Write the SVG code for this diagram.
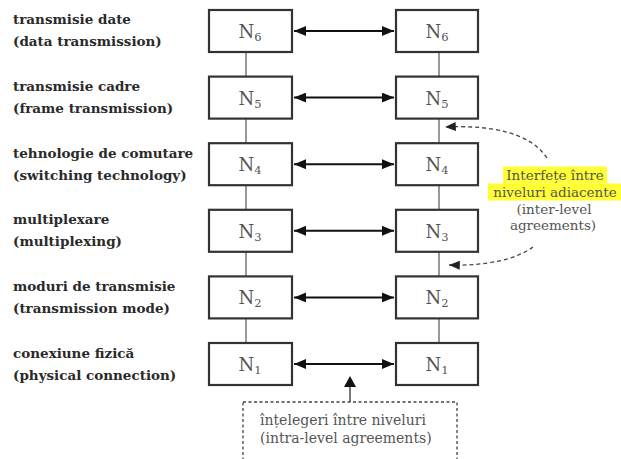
<svg xmlns="http://www.w3.org/2000/svg" width="621" height="459" viewBox="0 0 621 459">
  <style>
    .lbl { font-family: "DejaVu Serif", "Liberation Serif", serif; font-size: 13.5px; fill: #2a2a2a; font-weight: 600; }
    .box { fill: #ffffff; stroke: #333333; stroke-width: 2.2; }
    .nn { font-family: "DejaVu Serif", "Liberation Serif", serif; font-size: 18px; fill: #555555; text-anchor: middle; }
    .sub { font-size: 11.5px; }
    .vline { stroke: #555555; stroke-width: 1.2; }
    .harrow { stroke: #111111; stroke-width: 2; marker-start: url(#headL); marker-end: url(#headR); }
    .dash { fill: none; stroke: #444444; stroke-width: 1.3; stroke-dasharray: 4 3; }
    .note { font-family: "DejaVu Serif", "Liberation Serif", serif; font-size: 13.5px; fill: #555555; }
    .note-b { font-size: 14px; }
  </style>
  <defs>
    <marker id="headR" viewBox="0 0 12 10" refX="12" refY="5" markerWidth="12" markerHeight="10" markerUnits="userSpaceOnUse" orient="auto">
      <path d="M0,0 L12,5 L0,10 Z" fill="#111111"/>
    </marker>
    <marker id="headL" viewBox="0 0 12 10" refX="0" refY="5" markerWidth="12" markerHeight="10" markerUnits="userSpaceOnUse" orient="auto">
      <path d="M12,0 L0,5 L12,10 Z" fill="#111111"/>
    </marker>
    <marker id="dashHead" viewBox="0 0 12 10" refX="12" refY="5" markerWidth="11" markerHeight="9" markerUnits="userSpaceOnUse" orient="auto">
      <path d="M0,0 L12,5 L0,10 Z" fill="#222222"/>
    </marker>
  </defs>

  <rect width="621" height="459" fill="#ffffff"/>

  <!-- layer names -->
  <g id="labels">
    <text class="lbl" x="13" y="24">transmisie date</text>
    <text class="lbl" x="13" y="46">(data transmission)</text>
    <text class="lbl" x="13" y="91">transmisie cadre</text>
    <text class="lbl" x="13" y="113">(frame transmission)</text>
    <text class="lbl" x="13" y="157.5">tehnologie de comutare</text>
    <text class="lbl" x="13" y="179.5">(switching technology)</text>
    <text class="lbl" x="13" y="224">multiplexare</text>
    <text class="lbl" x="13" y="246">(multiplexing)</text>
    <text class="lbl" x="13" y="291">moduri de transmisie</text>
    <text class="lbl" x="13" y="313">(transmission mode)</text>
    <text class="lbl" x="13" y="358">conexiune fizică</text>
    <text class="lbl" x="13" y="380">(physical connection)</text>
  </g>

  <!-- connectors -->
  <g id="connectors">
    <!-- vertical links between adjacent levels -->
    <line class="vline" x1="246" y1="52" x2="246" y2="343"/>
    <line class="vline" x1="439" y1="52" x2="439" y2="343"/>
    <!-- peer-to-peer links -->
    <line class="harrow" x1="294" y1="31" x2="394" y2="31"/>
    <line class="harrow" x1="294" y1="97.6" x2="394" y2="97.6"/>
    <line class="harrow" x1="294" y1="164.2" x2="394" y2="164.2"/>
    <line class="harrow" x1="294" y1="230.8" x2="394" y2="230.8"/>
    <line class="harrow" x1="294" y1="297.4" x2="394" y2="297.4"/>
    <line class="harrow" x1="294" y1="364" x2="394" y2="364"/>
    <!-- notes pointing to the interfaces -->
    <path class="dash" d="M547,158 C530,132 490,125 445,127" marker-end="url(#dashHead)"/>
    <path class="dash" d="M533,247 C515,260 485,266 449,265" marker-end="url(#dashHead)"/>
    <line x1="350" y1="402" x2="350" y2="386" stroke="#333333" stroke-width="1.3"/>
    <path d="M344,387 L350,376 L356,387 Z" fill="#111111"/>
  </g>

  <!-- left stack -->
  <g id="left-N6"><rect class="box" x="209" y="10" width="83" height="42"/><text class="nn" x="250" y="38">N<tspan class="sub" dy="3">6</tspan></text></g>
  <g id="left-N5"><rect class="box" x="209" y="76.6" width="83" height="42"/><text class="nn" x="250" y="104.6">N<tspan class="sub" dy="3">5</tspan></text></g>
  <g id="left-N4"><rect class="box" x="209" y="143.2" width="83" height="42"/><text class="nn" x="250" y="171.2">N<tspan class="sub" dy="3">4</tspan></text></g>
  <g id="left-N3"><rect class="box" x="209" y="209.8" width="83" height="42"/><text class="nn" x="250" y="237.8">N<tspan class="sub" dy="3">3</tspan></text></g>
  <g id="left-N2"><rect class="box" x="209" y="276.4" width="83" height="42"/><text class="nn" x="250" y="304.4">N<tspan class="sub" dy="3">2</tspan></text></g>
  <g id="left-N1"><rect class="box" x="209" y="343" width="83" height="42"/><text class="nn" x="250" y="371">N<tspan class="sub" dy="3">1</tspan></text></g>

  <!-- right stack -->
  <g id="right-N6"><rect class="box" x="396" y="10" width="82" height="42"/><text class="nn" x="437" y="38">N<tspan class="sub" dy="3">6</tspan></text></g>
  <g id="right-N5"><rect class="box" x="396" y="76.6" width="82" height="42"/><text class="nn" x="437" y="104.6">N<tspan class="sub" dy="3">5</tspan></text></g>
  <g id="right-N4"><rect class="box" x="396" y="143.2" width="82" height="42"/><text class="nn" x="437" y="171.2">N<tspan class="sub" dy="3">4</tspan></text></g>
  <g id="right-N3"><rect class="box" x="396" y="209.8" width="82" height="42"/><text class="nn" x="437" y="237.8">N<tspan class="sub" dy="3">3</tspan></text></g>
  <g id="right-N2"><rect class="box" x="396" y="276.4" width="82" height="42"/><text class="nn" x="437" y="304.4">N<tspan class="sub" dy="3">2</tspan></text></g>
  <g id="right-N1"><rect class="box" x="396" y="343" width="82" height="42"/><text class="nn" x="437" y="371">N<tspan class="sub" dy="3">1</tspan></text></g>

  <!-- note: interfaces between adjacent levels -->
  <g id="note-inter">
    <rect x="503" y="166.5" width="104" height="17" fill="#ffff33"/>
    <rect x="488" y="183.5" width="133" height="17" fill="#ffff33"/>
    <text class="note" x="555" y="180" text-anchor="middle" fill="#333333">Interfețe între</text>
    <text class="note" x="555" y="197" text-anchor="middle" fill="#333333">niveluri adiacente</text>
    <text class="note" x="554" y="214" text-anchor="middle">(inter-level</text>
    <text class="note" x="553" y="230" text-anchor="middle">agreements)</text>
  </g>

  <!-- note: agreements within a level -->
  <g id="note-intra">
    <rect x="243" y="402" width="214" height="60" fill="none" stroke="#444444" stroke-width="1.3" stroke-dasharray="3 2.5"/>
    <text class="note note-b" x="260" y="425">înțelegeri între niveluri</text>
    <text class="note note-b" x="260" y="443">(intra-level agreements)</text>
  </g>
</svg>
